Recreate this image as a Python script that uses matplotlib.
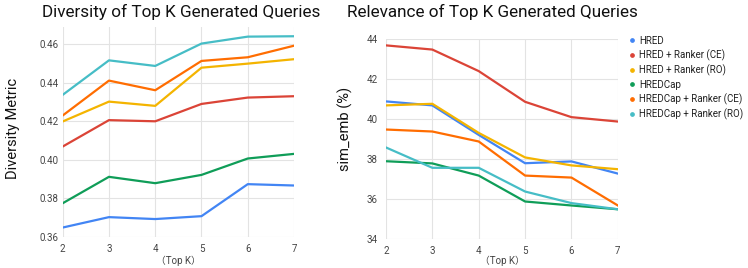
import matplotlib
matplotlib.use("Agg")
import matplotlib.pyplot as plt

plt.rcParams["font.family"] = ["Roboto", "Noto Sans CJK SC", "DejaVu Sans"]

top_k = [2, 3, 4, 5, 6, 7]
models = ["HRED", "HRED + Ranker (CE)", "HRED + Ranker (RO)",
          "HREDCap", "HREDCap + Ranker (CE)", "HREDCap + Ranker (RO)"]
colors = ["#4285F4", "#DB4437", "#F4B400", "#0F9D58", "#FF6D01", "#46BDC6"]

# diversity metric per model
diversity = [
    [0.3649, 0.3703, 0.3693, 0.3708, 0.3874, 0.3867],
    [0.4069, 0.4206, 0.4200, 0.4290, 0.4323, 0.4330],
    [0.4199, 0.4302, 0.4280, 0.4478, 0.4499, 0.4522],
    [0.3775, 0.3912, 0.3879, 0.3922, 0.4007, 0.4031],
    [0.4230, 0.4411, 0.4361, 0.4513, 0.4532, 0.4592],
    [0.4337, 0.4516, 0.4487, 0.4603, 0.4639, 0.4641],
]

# sim_emb (%) per model
relevance = [
    [40.89, 40.69, 39.21, 37.79, 37.88, 37.27],
    [43.70, 43.49, 42.41, 40.87, 40.10, 39.88],
    [40.69, 40.77, 39.31, 38.08, 37.68, 37.49],
    [37.89, 37.78, 37.17, 35.87, 35.67, 35.48],
    [39.48, 39.38, 38.88, 37.17, 37.07, 35.67],
    [38.58, 37.56, 37.56, 36.37, 35.79, 35.48],
]

fig = plt.figure(figsize=(7.48, 2.68), dpi=100)
ax1 = fig.add_axes([0.0838, 0.1157, 0.3093, 0.7843])
ax2 = fig.add_axes([0.516, 0.109, 0.310, 0.744])

tick_color = "#444444"
grid_color = "#e3e3e3"


def style(ax, pad):
    for s in ax.spines.values():
        s.set_visible(False)
    ax.grid(True, color=grid_color, linewidth=0.8)
    ax.set_axisbelow(True)
    ax.tick_params(length=0, labelsize=7, colors=tick_color)
    ax.tick_params(axis="x", pad=5)
    ax.tick_params(axis="y", pad=pad)
    ax.set_xlim(2, 7)
    ax.set_xticks(top_k)


for vals, c in zip(diversity, colors):
    ax1.plot(top_k, vals, color=c, linewidth=1.6)
style(ax1, 3)
ax1.set_ylim(0.36, 0.469)
ax1.set_yticks([0.36, 0.38, 0.40, 0.42, 0.44, 0.46])
ax1.set_yticklabels(["0.36", "0.38", "0.40", "0.42", "0.44", "0.46"])

for vals, c, m in zip(relevance, colors, models):
    ax2.plot(top_k, vals, color=c, linewidth=1.6, label=m)
style(ax2, 6)
ax2.set_ylim(34, 44)
ax2.set_yticks([34, 36, 38, 40, 42, 44])

handles = [plt.Line2D([], [], marker="o", linestyle="", markersize=2.4,
                      color=c) for c in colors]
fig.legend(handles, models, loc="upper left", bbox_to_anchor=(0.836, 0.885),
           frameon=False, fontsize=7, handlelength=0.4, handletextpad=0.5,
           labelspacing=0.38, borderpad=0, labelcolor="#222222")

fig.text(0.242, 0.955, "Diversity of Top K Generated Queries", fontsize=12.3,
         ha="center", va="center", color="#111111")
fig.text(0.658, 0.955, "Relevance of Top K Generated Queries", fontsize=12.3,
         ha="center", va="center", color="#111111")
fig.text(0.017, 0.52, "Diversity Metric", fontsize=10.5, rotation=90,
         ha="center", va="center", color="#111111")
fig.text(0.462, 0.52, "sim_emb (%)", fontsize=10.5, rotation=90,
         ha="center", va="center", color="#111111")
fig.text(0.238, 0.028, "（Top K）", fontsize=7, ha="center", va="center",
         color=tick_color)
fig.text(0.671, 0.028, "（Top K）", fontsize=7, ha="center", va="center",
         color=tick_color)

fig.savefig("out.png", dpi=100)
